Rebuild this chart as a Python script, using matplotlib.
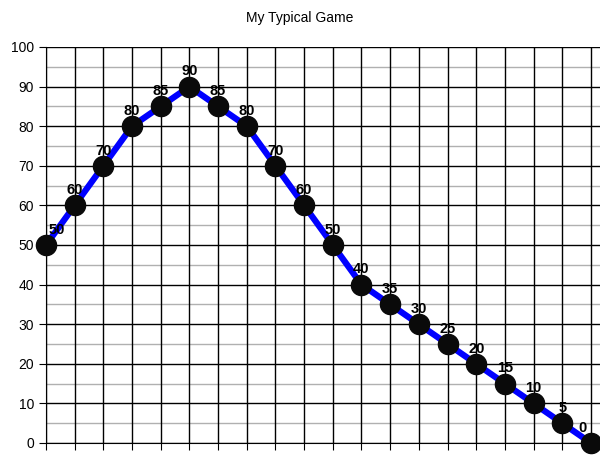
import numpy as np
import matplotlib.pyplot as plt

# score over the game
scores = [50, 60, 70, 80, 85, 90, 85, 80, 70, 60, 50, 40, 35, 30, 25, 20, 15, 10, 5, 0]
title = 'My Typical Game'
y_ticks = list(range(0, 101, 10))

plt.rcParams['font.family'] = ['Liberation Sans', 'DejaVu Sans']

fig = plt.figure(figsize=(6, 4.63), dpi=100)
ax = fig.add_axes([46/600, 20/463, 1 - 46/600, (443 - 47)/463])

x = np.arange(len(scores))

# grid: gray minor lines every 5, black major lines every 10 and at each point
for yv in range(5, 100, 10):
    ax.axhline(yv, color='#b0b0b0', lw=1, zorder=1)
for yv in y_ticks:
    ax.axhline(yv, color='black', lw=1, zorder=1)
for xv in x:
    ax.axvline(xv, color='black', lw=1, zorder=1)

ax.plot(x, scores, color='#0000ff', lw=4.5, zorder=3, clip_on=False)
ax.plot(x, scores, 'o', color='#0a0a0a', ms=14.5, zorder=4, clip_on=False)

for i, s in enumerate(scores):
    dx = 0
    if i == 0:
        dx = 8
    elif i == len(scores) - 1:
        dx = -6
    ax.annotate(str(s), (i, s), xytext=(dx, 8), textcoords='offset points',
                ha='center', va='baseline', fontsize=10.5, fontweight='bold', zorder=5)

ax.set_xlim(0, 554/28.68)
ax.set_ylim(0, 100)
ax.set_yticks(y_ticks)
ax.set_xticks(x)
ax.set_xticklabels([])
ax.tick_params(axis='y', length=5, labelsize=10, direction='out')
ax.tick_params(axis='x', length=5, direction='out')
for sp in ax.spines.values():
    sp.set_visible(False)
ax.spines['left'].set_visible(True)
ax.spines['bottom'].set_visible(True)

fig.text(0.5, 1 - 18/463, title, ha='center', va='center', fontsize=10)

fig.savefig('out.png', dpi=100)
